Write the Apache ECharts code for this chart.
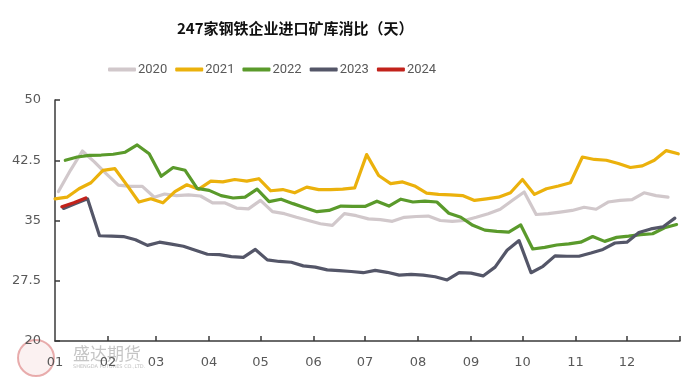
<!DOCTYPE html>
<html>
<head>
<meta charset="utf-8">
<script src="https://cdn.jsdelivr.net/npm/echarts@6/dist/echarts.min.js"></script>
<style>html,body{margin:0;padding:0;background:#fff}#c{width:700px;height:380px}</style>
</head>
<body>
<div id="c"></div>
<script>
const titleText = '247家钢铁企业进口矿库消比（天）';
const years = ['2020', '2021', '2022', '2023', '2024'];
const firstFriday = ['2020-01-03', '2021-01-01', '2022-01-07', '2023-01-06', '2024-01-05'];
const monthLabels = ['01','02','03','04','05','06','07','08','09','10','11','12'];
const monthStarts = [0,31,59,90,120,151,181,212,243,273,304,334];
const monthEnds = [31,59,90,120,151,181,212,243,273,304,334,365];
const yTicks = [20, 27.5, 35, 42.5, 50];

const v2020 = [38.6,41.25,43.65,42.3,40.8,39.4,39.25,39.25,37.9,38.3,38.1,38.2,38.05,37.2,37.2,36.55,36.45,37.5,36.1,35.85,35.4,35.0,34.6,34.4,35.85,35.6,35.2,35.1,34.9,35.4,35.5,35.55,35.0,34.9,35.0,35.4,35.85,36.4,37.5,38.55,35.75,35.85,36.05,36.25,36.65,36.4,37.3,37.5,37.6,38.45,38.1,37.9];
const v2021 = [37.7,37.9,38.95,39.7,41.25,41.45,39.4,37.3,37.7,37.2,38.6,39.45,38.9,39.9,39.8,40.1,39.9,40.2,38.7,38.85,38.45,39.15,38.85,38.85,38.9,39.05,43.2,40.6,39.6,39.8,39.3,38.4,38.25,38.2,38.1,37.5,37.7,37.9,38.45,40.1,38.25,38.95,39.3,39.7,42.9,42.6,42.5,42.1,41.6,41.8,42.5,43.7,43.3];
const v2022 = [42.5,42.9,43.1,43.15,43.25,43.5,44.4,43.3,40.5,41.6,41.25,39.0,38.75,38.1,37.8,37.9,38.9,37.35,37.65,37.1,36.6,36.1,36.25,36.8,36.75,36.75,37.4,36.8,37.65,37.3,37.4,37.3,35.9,35.4,34.4,33.8,33.65,33.55,34.45,31.45,31.65,31.95,32.1,32.3,33.0,32.4,32.9,33.05,33.25,33.35,34.1,34.5];
const v2023 = [36.5,37.1,37.7,33.1,33.05,33.0,32.6,31.9,32.3,32.05,31.8,31.3,30.8,30.75,30.5,30.4,31.4,30.1,29.9,29.8,29.35,29.2,28.85,28.75,28.65,28.5,28.8,28.55,28.2,28.3,28.2,28.0,27.6,28.5,28.45,28.1,29.2,31.3,32.5,28.5,29.3,30.6,30.55,30.55,30.95,31.4,32.2,32.3,33.5,33.95,34.2,35.3];
const v2024 = [36.7,37.2,37.8];
const seriesValues = [v2020, v2021, v2022, v2023, v2024];
const colors = ['#d1c8cb', '#ebb10c', '#5a9a2b', '#545668', '#c2221b'];

function weekDay(first, i) {
  const p = first.split('-').map(Number);
  const dt = new Date(Date.UTC(p[0], p[1] - 1, p[2] + 7 * i));
  return (Date.UTC(2023, dt.getUTCMonth(), dt.getUTCDate()) - Date.UTC(2023, 0, 1)) / 86400000;
}

const chart = echarts.init(document.getElementById('c'), null, {renderer: 'canvas'});
const series = years.map((y, k) => ({
  name: y,
  type: 'line',
  data: seriesValues[k].map((v, i) => [weekDay(firstFriday[k], i), v]),
  showSymbol: false,
  symbol: 'none',
  lineStyle: {width: 3.2, color: colors[k], cap: 'round', join: 'round'},
  itemStyle: {color: colors[k]},
  z: 2 + k,
  animation: false
}));

chart.setOption({
  animation: false,
  color: colors,
  title: {
    text: titleText,
    left: 172, top: 16,
    textStyle: {fontFamily: 'Noto Sans CJK SC', fontWeight: 'bold', fontSize: 15, color: '#111'}
  },
  legend: {
    left: 103, top: 58,
    itemWidth: 28, itemHeight: 4, itemGap: 8,
    icon: 'roundRect',
    textStyle: {fontFamily: 'Roboto, sans-serif', fontSize: 13, color: '#595959', padding: [0, 0, 0, -3]},
    data: years
  },
  grid: {left: 55, right: 20, top: 100, bottom: 39, containLabel: false},
  xAxis: {
    type: 'value', min: 0, max: 365,
    splitLine: {show: false},
    axisLine: {show: true, lineStyle: {color: '#3a3a3a', width: 1.5}},
    axisTick: {show: true, inside: true, length: 5, customValues: monthEnds, lineStyle: {color: '#3a3a3a', width: 1.5}},
    axisLabel: {
      customValues: monthStarts,
      formatter: v => monthLabels[monthStarts.indexOf(v)] || '',
      margin: 15, fontFamily: 'DejaVu Sans', fontSize: 13, color: '#595959'
    }
  },
  yAxis: {
    type: 'value', min: yTicks[0], max: yTicks[yTicks.length - 1], interval: 7.5,
    splitLine: {show: false},
    axisLine: {show: true, lineStyle: {color: '#3a3a3a', width: 1.5}},
    axisTick: {show: true, inside: true, length: 5, lineStyle: {color: '#3a3a3a', width: 1.5}},
    axisLabel: {margin: 14, fontFamily: 'DejaVu Sans', fontSize: 13, color: '#595959'}
  },
  graphic: [
    {type: 'circle', left: 17, top: 339, z: -1, shape: {r: 18}, style: {fill: 'rgba(240,200,200,0.25)', stroke: 'rgba(215,110,110,0.55)', lineWidth: 2}},
    {type: 'text', left: 73, top: 345, z: -1, style: {text: '盛达期货', fontFamily: 'Noto Sans CJK SC', fontSize: 17, fill: 'rgba(150,150,150,0.55)'}},
    {type: 'text', left: 73, top: 364, z: -1, style: {text: 'SHENGDA FUTURES CO.,LTD.', fontFamily: 'DejaVu Sans', fontSize: 5, fill: 'rgba(150,150,150,0.6)'}}
  ],
  series: series
});
</script>
</body>
</html>
